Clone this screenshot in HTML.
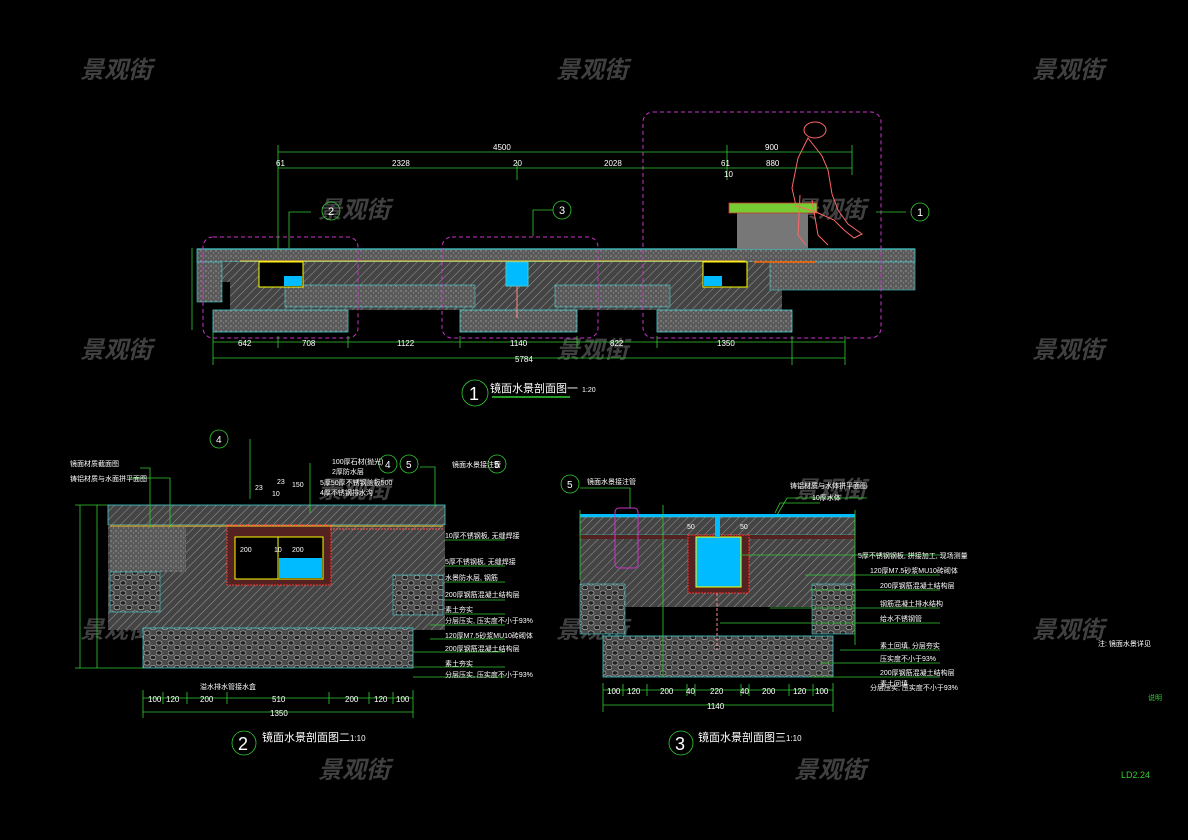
<!DOCTYPE html>
<html><head><meta charset="utf-8"><style>
html,body{margin:0;padding:0;background:#000;}
svg{display:block}
text{font-family:"Liberation Sans","Noto Sans CJK SC",sans-serif;}
.d{fill:#fff;font-size:8px}
.t{fill:#fff;font-size:7px}
.wm{fill:#404040;font-size:24px;font-style:italic;font-weight:bold}
</style></head><body>
<svg width="1188" height="840" viewBox="0 0 1188 840" xmlns="http://www.w3.org/2000/svg">
<defs>
<pattern id="h" width="6" height="6" patternUnits="userSpaceOnUse" patternTransform="rotate(45)">
<rect width="6" height="6" fill="#444"/><line x1="0" y1="0" x2="0" y2="6" stroke="#999" stroke-width="1"/></pattern>
<pattern id="c" width="5" height="5" patternUnits="userSpaceOnUse">
<rect width="5" height="5" fill="#5a5a5a"/><circle cx="1" cy="1" r="0.6" fill="#bbb"/><circle cx="3.5" cy="3" r="0.5" fill="#aaa"/></pattern>
<pattern id="s" width="12" height="10" patternUnits="userSpaceOnUse">
<rect width="12" height="10" fill="#4a4a4a"/><ellipse cx="3" cy="3" rx="3" ry="2.2" fill="#222" stroke="#aaa" stroke-width="0.7"/><ellipse cx="9" cy="7.5" rx="3" ry="2.2" fill="#222" stroke="#aaa" stroke-width="0.7"/></pattern>
</defs>
<rect width="1188" height="840" fill="#000"/>
<g class="wm">
<text x="80" y="78">景观街</text><text x="556" y="78">景观街</text><text x="1032" y="78">景观街</text>
<text x="80" y="358">景观街</text><text x="556" y="358">景观街</text><text x="1032" y="358">景观街</text>
<text x="80" y="638">景观街</text><text x="556" y="638">景观街</text><text x="1032" y="638">景观街</text>
<text x="318" y="218">景观街</text><text x="794" y="218">景观街</text>
<text x="318" y="498">景观街</text><text x="794" y="498">景观街</text>
<text x="318" y="778">景观街</text><text x="794" y="778">景观街</text>
</g>

<!-- SECTION 1 -->
<g>
<rect x="197" y="249" width="718" height="13" fill="url(#c)" stroke="#4cc" stroke-width="0.8"/>
<rect x="197" y="262" width="585" height="20" fill="url(#h)"/>
<rect x="235" y="262" width="55" height="48" fill="url(#h)"/>
<rect x="197" y="262" width="25" height="40" fill="url(#c)" stroke="#4cc" stroke-width="0.6"/>
<rect x="230" y="282" width="552" height="28" fill="url(#h)"/>
<rect x="285" y="285" width="190" height="22" fill="url(#c)" stroke="#4cc" stroke-width="0.6"/>
<rect x="555" y="285" width="115" height="22" fill="url(#c)" stroke="#4cc" stroke-width="0.6"/>
<rect x="770" y="262" width="145" height="28" fill="url(#c)" stroke="#4cc" stroke-width="0.6"/>
<rect x="213" y="310" width="135" height="22" fill="url(#c)" stroke="#4cc" stroke-width="0.8"/>
<rect x="460" y="310" width="117" height="22" fill="url(#c)" stroke="#4cc" stroke-width="0.8"/>
<rect x="657" y="310" width="135" height="22" fill="url(#c)" stroke="#4cc" stroke-width="0.8"/>
<rect x="259" y="262" width="44" height="25" fill="#000" stroke="#ff0" stroke-width="1"/>
<rect x="284" y="276" width="18" height="10" fill="#0bf"/>
<rect x="506" y="262" width="22" height="24" fill="#0bf" stroke="#4cc"/>
<line x1="517" y1="286" x2="517" y2="318" stroke="#f88" stroke-width="1"/>
<rect x="703" y="262" width="44" height="25" fill="#000" stroke="#ff0" stroke-width="1"/>
<rect x="704" y="276" width="18" height="10" fill="#0bf"/>
<line x1="240" y1="261" x2="745" y2="261" stroke="#fc3" stroke-width="1"/>
<line x1="197" y1="249" x2="915" y2="249" stroke="#4cc" stroke-width="1.2"/>
<rect x="737" y="212" width="71" height="37" fill="#777"/>
<rect x="729" y="203" width="88" height="10" fill="#7c3" stroke="#c33" stroke-width="0.8"/>
<g fill="none" stroke="#f66" stroke-width="1">
<ellipse cx="815" cy="130" rx="11" ry="8"/>
<path d="M808 138 l-10 20 -6 30 4 18 20 6 18 8 10 10 10 8 8 -4 -14 -10 -10 -14 -6 -16 -4 -24 -6 -14 z"/>
<path d="M800 195 l-2 40 8 10 M812 200 l6 35 10 10"/>
</g>
<line x1="754" y1="262" x2="815" y2="262" stroke="#f60" stroke-width="1.5"/>
<g fill="none" stroke="#c3c" stroke-dasharray="4,3" stroke-width="1">
<rect x="203" y="237" width="155" height="101" rx="10"/>
<rect x="442" y="237" width="156" height="101" rx="10"/>
<rect x="643" y="112" width="238" height="226" rx="10"/>
</g>
<g stroke="#3c3" stroke-width="0.8" fill="none">
<line x1="278" y1="152" x2="852" y2="152"/><line x1="278" y1="168" x2="852" y2="168"/>
<line x1="278" y1="145" x2="278" y2="250"/><line x1="517" y1="162" x2="517" y2="180"/><line x1="727" y1="145" x2="727" y2="180"/><line x1="852" y1="145" x2="852" y2="175"/>
<line x1="213" y1="342" x2="845" y2="342"/><line x1="213" y1="358" x2="845" y2="358"/>
<line x1="213" y1="332" x2="213" y2="365"/><line x1="278" y1="336" x2="278" y2="348"/><line x1="348" y1="336" x2="348" y2="348"/><line x1="460" y1="336" x2="460" y2="348"/><line x1="577" y1="336" x2="577" y2="348"/><line x1="657" y1="336" x2="657" y2="348"/><line x1="792" y1="336" x2="792" y2="365"/><line x1="845" y1="336" x2="845" y2="365"/>
<line x1="192" y1="248" x2="192" y2="330"/>
<path d="M289 248 v-36 h22"/><path d="M533 236 v-26 h20"/><path d="M876 212 h30"/>
<circle cx="331" cy="211" r="9"/><circle cx="562" cy="210" r="9"/><circle cx="920" cy="212" r="9"/>
<circle cx="475" cy="393" r="13"/><line x1="492" y1="397" x2="570" y2="397" stroke-width="1.5"/>
</g>
<g class="d">
<text x="493" y="150">4500</text><text x="276" y="166">61</text><text x="392" y="166">2328</text><text x="513" y="166">20</text><text x="604" y="166">2028</text><text x="721" y="166">61</text><text x="765" y="150">900</text><text x="766" y="166">880</text><text x="724" y="177">10</text>
<text x="238" y="346">642</text><text x="302" y="346">708</text><text x="397" y="346">1122</text><text x="510" y="346">1140</text><text x="610" y="346">822</text><text x="717" y="346">1350</text><text x="515" y="362">5784</text>
<text x="328" y="215" font-size="11">2</text><text x="559" y="214" font-size="11">3</text><text x="917" y="216" font-size="11">1</text>
<text x="469" y="400" font-size="18">1</text>
<text x="490" y="392" font-size="11">镜面水景剖面图一</text><text x="582" y="392" font-size="7">1:20</text>
</g>
</g>

<!-- SECTION 2 -->
<g>
<rect x="108" y="505" width="337" height="20" fill="url(#h)" stroke="#4cc" stroke-width="0.8"/>
<rect x="108" y="525" width="337" height="105" fill="url(#h)"/>
<rect x="110" y="527" width="76" height="45" fill="url(#c)"/>
<rect x="110" y="572" width="50" height="40" fill="url(#s)" stroke="#4cc" stroke-width="0.6"/>
<rect x="393" y="575" width="50" height="40" fill="url(#s)" stroke="#4cc" stroke-width="0.6"/>
<rect x="143" y="628" width="270" height="40" fill="url(#s)" stroke="#4cc" stroke-width="0.8"/>
<rect x="227" y="525" width="104" height="60" fill="#522" stroke="#f33" stroke-width="1" stroke-dasharray="2,1"/>
<rect x="235" y="537" width="88" height="42" fill="#000" stroke="#ff0" stroke-width="1"/>
<rect x="279" y="558" width="43" height="20" fill="#0bf"/>
<line x1="278" y1="537" x2="278" y2="579" stroke="#ff0"/>
<line x1="110" y1="526" x2="443" y2="526" stroke="#fc3" stroke-width="1"/>
<line x1="330" y1="529" x2="443" y2="529" stroke="#f55" stroke-dasharray="2,1"/>
<g stroke="#3c3" stroke-width="0.8" fill="none">
<line x1="143" y1="698" x2="413" y2="698"/><line x1="143" y1="712" x2="413" y2="712"/>
<line x1="143" y1="690" x2="143" y2="718"/><line x1="163" y1="692" x2="163" y2="704"/><line x1="187" y1="692" x2="187" y2="704"/><line x1="227" y1="692" x2="227" y2="704"/><line x1="329" y1="692" x2="329" y2="704"/><line x1="369" y1="692" x2="369" y2="704"/><line x1="393" y1="692" x2="393" y2="704"/><line x1="413" y1="690" x2="413" y2="718"/>
<line x1="80" y1="505" x2="80" y2="668"/><line x1="97" y1="505" x2="97" y2="668"/>
<line x1="75" y1="505" x2="108" y2="505"/><line x1="75" y1="668" x2="143" y2="668"/>
<line x1="445" y1="540" x2="505" y2="540"/><line x1="445" y1="566" x2="505" y2="566"/><line x1="445" y1="582" x2="505" y2="582"/><line x1="445" y1="600" x2="505" y2="600"/><line x1="445" y1="614" x2="505" y2="614"/><line x1="430" y1="625" x2="505" y2="625"/><line x1="430" y1="639" x2="505" y2="639"/><line x1="413" y1="652" x2="505" y2="652"/><line x1="413" y1="667" x2="505" y2="667"/><line x1="413" y1="677" x2="505" y2="677"/>
<path d="M140 468 h10 v60"/><path d="M130 478 h40 v50"/>
<path d="M250 439 v60"/><path d="M310 463 v50"/><path d="M420 467 h15 v40"/>
<circle cx="219" cy="439" r="9"/><circle cx="388" cy="464" r="9"/><circle cx="409" cy="464" r="9"/><circle cx="497" cy="464" r="9"/>
<circle cx="244" cy="743" r="12"/>
</g>
<g class="t">
<text x="70" y="466">镜面材质截面图</text><text x="70" y="481">铸铝材质与水面拼平面图</text>
<text x="332" y="464">100厚石材(抛光)</text><text x="332" y="474">2厚防水层</text><text x="320" y="485">5厚50厚不锈钢盖板500</text><text x="320" y="495">4厚不锈钢排水沟</text>
<text x="452" y="467">镜面水景接注管</text>
<text x="445" y="538">10厚不锈钢板, 无缝焊接</text><text x="445" y="564">5厚不锈钢板, 无缝焊接</text><text x="445" y="580">水景防水层, 钢筋</text><text x="445" y="597">200厚钢筋混凝土结构层</text><text x="445" y="612">素土夯实</text>
<text x="445" y="623">分层压实, 压实度不小于93%</text><text x="445" y="638">120厚M7.5砂浆MU10砖砌体</text><text x="445" y="651">200厚钢筋混凝土结构层</text><text x="445" y="666">素土夯实</text><text x="445" y="677">分层压实, 压实度不小于93%</text>
<text x="200" y="689">溢水排水管接水盒</text>
<text x="255" y="490">23</text><text x="277" y="484">23</text><text x="292" y="487">150</text><text x="272" y="496">10</text>
<text x="240" y="552">200</text><text x="274" y="552">10</text><text x="292" y="552">200</text>
</g>
<g class="d">
<text x="148" y="702">100</text><text x="166" y="702">120</text><text x="200" y="702">200</text><text x="272" y="702">510</text><text x="345" y="702">200</text><text x="374" y="702">120</text><text x="396" y="702">100</text><text x="270" y="716">1350</text>
<text x="216" y="443" font-size="10">4</text><text x="385" y="468" font-size="10">4</text><text x="406" y="468" font-size="10">5</text><text x="494" y="468" font-size="10">5</text>
<text x="238" y="750" font-size="18">2</text>
<text x="262" y="741" font-size="11">镜面水景剖面图二</text><text x="350" y="741" font-size="8">1:10</text>
</g>
</g>

<!-- SECTION 3 -->
<g>
<rect x="580" y="514" width="275" height="3" fill="#0bf"/>
<rect x="580" y="517" width="275" height="18" fill="url(#h)" stroke="#4cc" stroke-width="0.6"/>
<rect x="580" y="535" width="275" height="4" fill="#522"/>
<rect x="580" y="539" width="275" height="68" fill="url(#h)"/>
<rect x="580" y="584" width="45" height="50" fill="url(#s)" stroke="#4cc" stroke-width="0.6"/>
<rect x="812" y="584" width="43" height="50" fill="url(#s)" stroke="#4cc" stroke-width="0.6"/>
<rect x="603" y="636" width="230" height="41" fill="url(#s)" stroke="#4cc" stroke-width="0.8"/>
<rect x="688" y="535" width="61" height="58" fill="#522" stroke="#f33" stroke-dasharray="2,1"/>
<rect x="696" y="537" width="45" height="50" fill="#0bf" stroke="#ff0"/>
<rect x="715" y="517" width="5" height="20" fill="#0bf"/>
<line x1="717" y1="593" x2="717" y2="650" stroke="#f88" stroke-dasharray="3,2"/>
<rect x="615" y="508" width="23" height="60" rx="4" fill="none" stroke="#c3c"/>
<g stroke="#3c3" stroke-width="0.8" fill="none">
<line x1="603" y1="690" x2="833" y2="690"/><line x1="603" y1="705" x2="833" y2="705"/>
<line x1="603" y1="683" x2="603" y2="712"/><line x1="623" y1="684" x2="623" y2="696"/><line x1="647" y1="684" x2="647" y2="696"/><line x1="687" y1="684" x2="687" y2="696"/><line x1="695" y1="684" x2="695" y2="696"/><line x1="741" y1="684" x2="741" y2="696"/><line x1="749" y1="684" x2="749" y2="696"/><line x1="789" y1="684" x2="789" y2="696"/><line x1="813" y1="684" x2="813" y2="696"/><line x1="833" y1="683" x2="833" y2="712"/>
<line x1="663" y1="505" x2="663" y2="677"/><line x1="580" y1="510" x2="580" y2="580"/><line x1="855" y1="510" x2="855" y2="645"/>
<line x1="740" y1="555" x2="940" y2="555"/><line x1="805" y1="575" x2="940" y2="575"/><line x1="810" y1="590" x2="940" y2="590"/><line x1="770" y1="608" x2="940" y2="608"/><line x1="720" y1="623" x2="940" y2="623"/><line x1="840" y1="650" x2="940" y2="650"/><line x1="820" y1="663" x2="940" y2="663"/><line x1="810" y1="677" x2="940" y2="677"/>
<path d="M777 515 l10 -17 h80"/><path d="M775 513 l5 -10 h40"/><path d="M630 508 v-20 h-50"/>
<circle cx="570" cy="484" r="9"/><circle cx="681" cy="743" r="12"/>
</g>
<g class="t">
<text x="587" y="484">镜面水景接注管</text><text x="790" y="488">铸铝材质与水体拼平面图</text><text x="812" y="500">10厚水体</text>
<text x="858" y="558">5厚不锈钢钢板, 拼接加工, 现场测量</text><text x="870" y="573">120厚M7.5砂浆MU10砖砌体</text><text x="880" y="588">200厚钢筋混凝土结构层</text><text x="880" y="606">钢筋混凝土排水结构</text><text x="880" y="621">给水不锈钢管</text>
<text x="880" y="648">素土回填, 分层夯实</text><text x="880" y="661">压实度不小于93%</text><text x="880" y="675">200厚钢筋混凝土结构层</text><text x="880" y="686">素土回填</text><text x="870" y="690">分层压实, 压实度不小于93%</text>
<text x="687" y="529">50</text><text x="740" y="529">50</text>
<text x="1098" y="646">注: 镜面水景详见</text><text x="1148" y="700" fill="#3c3">说明</text>
</g>
<g class="d">
<text x="607" y="694">100</text><text x="627" y="694">120</text><text x="660" y="694">200</text><text x="686" y="694">40</text><text x="710" y="694">220</text><text x="740" y="694">40</text><text x="762" y="694">200</text><text x="793" y="694">120</text><text x="815" y="694">100</text><text x="707" y="709">1140</text>
<text x="567" y="488" font-size="10">5</text>
<text x="675" y="750" font-size="18">3</text>
<text x="698" y="741" font-size="11">镜面水景剖面图三</text><text x="786" y="741" font-size="8">1:10</text>
<text x="1121" y="778" font-size="9" fill="#3c3">LD2.24</text>
</g>
</g>
</svg>
</body></html>
